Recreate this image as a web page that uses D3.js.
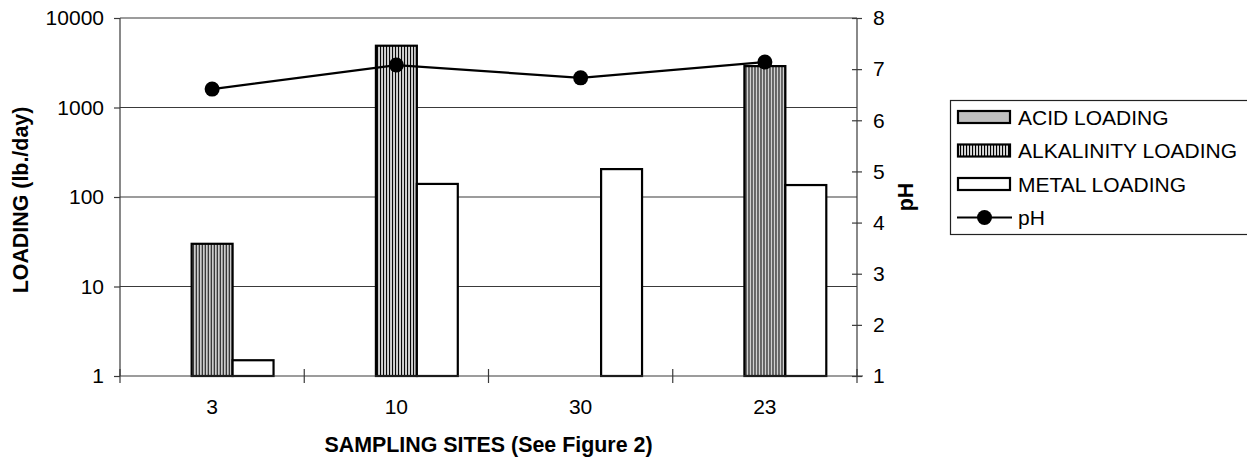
<!DOCTYPE html>
<html>
<head>
<meta charset="utf-8">
<script src="https://cdn.jsdelivr.net/npm/d3@7"></script>
<style>
  html, body { margin: 0; padding: 0; background: #fff; }
  svg { display: block; font-family: "Liberation Sans", Arial, sans-serif; }
</style>
</head>
<body>
<svg id="chart" width="1247" height="458"></svg>
<script>
// Sampling sites along the x axis
const sites = ["3", "10", "30", "23"];

// Loading series (lb./day); 0 means no load measured at the site
const acidLoading = [0, 0, 0, 0];
const alkalinityLoading = [30, 4900, 0, 2900];
const metalLoading = [1.5, 140, 205, 136];

// pH measured at each site
const pHValues = [6.61, 7.08, 6.83, 7.14];

// Axis ticks
const loadingTicks = [1, 10, 100, 1000, 10000];
const pHTicks = [1, 2, 3, 4, 5, 6, 7, 8];

const seriesNames = ["ACID LOADING", "ALKALINITY LOADING", "METAL LOADING"];
const seriesValues = [acidLoading, alkalinityLoading, metalLoading];

const svg = d3.select("#chart");
const plot = { left: 120, right: 857, top: 18, bottom: 376 };
const FS = 21;      // regular label size
const FSB = 21.4;   // bold title size

// Fills
const defs = svg.append("defs");
const pat = defs.append("pattern")
  .attr("id", "vstripes")
  .attr("patternUnits", "userSpaceOnUse")
  .attr("width", 3).attr("height", 10);
pat.append("rect").attr("width", 3).attr("height", 10).attr("fill", "#dcdcdc");
pat.append("rect").attr("x", 0).attr("width", 1.1).attr("height", 10).attr("fill", "#000");

const fills = ["#c0c0c0", "url(#vstripes)", "#ffffff"];

// Scales
const x = d3.scaleBand().domain(sites).range([plot.left, plot.right]).paddingInner(0).paddingOuter(0);
const groupWidth = x.bandwidth() * 3 / 4.5;
const xs = d3.scaleBand().domain(d3.range(seriesNames.length)).range([0, groupWidth]);
const y = d3.scaleLog().domain([1, 10000]).range([plot.bottom, plot.top]);
const yR = d3.scaleLinear().domain([1, 8]).range([plot.bottom, plot.top]);

// Horizontal gridlines at each decade
svg.append("g")
  .selectAll("line")
  .data(loadingTicks.slice(1))
  .join("line")
  .attr("x1", plot.left).attr("x2", plot.right)
  .attr("y1", d => y(d)).attr("y2", d => y(d))
  .attr("stroke", "#3a3a3a").attr("stroke-width", 1.2);

// Bars
const groups = svg.append("g").selectAll("g")
  .data(sites)
  .join("g")
  .attr("transform", d => `translate(${x(d) + (x.bandwidth() - groupWidth) / 2},0)`);

groups.selectAll("rect")
  .data((d, i) => seriesValues.map((vals, s) => ({ s, v: vals[i] })).filter(e => e.v > 0))
  .join("rect")
  .attr("x", e => xs(e.s))
  .attr("width", xs.bandwidth())
  .attr("y", e => y(e.v))
  .attr("height", e => y(1) - y(e.v))
  .attr("fill", e => fills[e.s])
  .attr("stroke", "#000")
  .attr("stroke-width", 2.2);

// Left axis (log)
const leftAxis = d3.axisLeft(y)
  .tickValues(loadingTicks)
  .tickFormat(d3.format("d"))
  .tickSize(6).tickPadding(10);
const gL = svg.append("g").attr("transform", `translate(${plot.left},0)`).call(leftAxis);
gL.select(".domain").attr("stroke", "#3a3a3a").attr("stroke-width", 1.2).attr("d", `M0,${plot.top}V${plot.bottom}`);
gL.selectAll(".tick line").attr("stroke", "#3a3a3a").attr("stroke-width", 1.2);
gL.selectAll("text").attr("font-size", FS).attr("fill", "#000").attr("font-family", "Liberation Sans, Arial, sans-serif");

// Right axis (pH)
const rightAxis = d3.axisRight(yR).tickValues(pHTicks).tickFormat(d3.format("d")).tickSize(5).tickPadding(11);
const gR = svg.append("g").attr("transform", `translate(${plot.right},0)`).call(rightAxis);
gR.select(".domain").attr("stroke", "#3a3a3a").attr("stroke-width", 1.2).attr("d", `M0,${plot.top}V${plot.bottom}`);
gR.selectAll(".tick line").attr("stroke", "#3a3a3a").attr("stroke-width", 1.2).attr("x1", -5).attr("x2", 5);
gR.selectAll("text").attr("font-size", FS).attr("fill", "#000").attr("font-family", "Liberation Sans, Arial, sans-serif");

// Bottom axis: category boundaries with crossing ticks, labels at centres
const gB = svg.append("g");
gB.append("line")
  .attr("x1", plot.left).attr("x2", plot.right + 6)
  .attr("y1", plot.bottom).attr("y2", plot.bottom)
  .attr("stroke", "#3a3a3a").attr("stroke-width", 1.2);
const boundaries = sites.map(s => x(s)).concat([x(sites[sites.length - 1]) + x.bandwidth()]);
gB.selectAll("line.tk")
  .data(boundaries)
  .join("line").attr("class", "tk")
  .attr("x1", d => d).attr("x2", d => d)
  .attr("y1", plot.bottom - 7).attr("y2", plot.bottom + 7)
  .attr("stroke", "#3a3a3a").attr("stroke-width", 1.2);
gB.selectAll("text")
  .data(sites)
  .join("text")
  .attr("x", d => x(d) + x.bandwidth() / 2)
  .attr("y", 414)
  .attr("text-anchor", "middle")
  .attr("font-size", FS)
  .text(d => d);

// pH line with markers
const line = d3.line()
  .x((d, i) => x(sites[i]) + x.bandwidth() / 2)
  .y(d => yR(d));
svg.append("path")
  .datum(pHValues)
  .attr("d", line)
  .attr("fill", "none")
  .attr("stroke", "#000")
  .attr("stroke-width", 2.2);
svg.append("g").selectAll("circle")
  .data(pHValues)
  .join("circle")
  .attr("cx", (d, i) => x(sites[i]) + x.bandwidth() / 2)
  .attr("cy", d => yR(d))
  .attr("r", 7.5)
  .attr("fill", "#000");

// Axis titles
svg.append("text")
  .attr("x", (plot.left + plot.right) / 2)
  .attr("y", 452)
  .attr("text-anchor", "middle")
  .attr("font-size", FSB).attr("font-weight", "bold")
  .text("SAMPLING SITES (See Figure 2)");

svg.append("text")
  .attr("transform", `translate(28,${(plot.top + plot.bottom) / 2 + 3}) rotate(-90)`)
  .attr("text-anchor", "middle")
  .attr("font-size", FSB).attr("font-weight", "bold")
  .text("LOADING (lb./day)");

svg.append("text")
  .attr("transform", `translate(913,${(plot.top + plot.bottom) / 2}) rotate(-90)`)
  .attr("text-anchor", "middle")
  .attr("font-size", FSB).attr("font-weight", "bold")
  .text("pH");

// Legend
const legend = svg.append("g");
legend.append("rect")
  .attr("x", 950.5).attr("y", 100.5)
  .attr("width", 310).attr("height", 134)
  .attr("fill", "#fff").attr("stroke", "#222").attr("stroke-width", 1.2);

const rowY = [117, 150.5, 184, 217.5];
seriesNames.forEach((name, i) => {
  legend.append("rect")
    .attr("x", 958).attr("y", rowY[i] - 6)
    .attr("width", 52).attr("height", 12)
    .attr("fill", fills[i])
    .attr("stroke", "#000").attr("stroke-width", 2.2);
  legend.append("text")
    .attr("x", 1018).attr("y", rowY[i] + 7.5)
    .attr("font-size", FS)
    .text(name);
});
legend.append("line")
  .attr("x1", 957).attr("x2", 1012)
  .attr("y1", rowY[3]).attr("y2", rowY[3])
  .attr("stroke", "#000").attr("stroke-width", 2.2);
legend.append("circle")
  .attr("cx", 984.5).attr("cy", rowY[3]).attr("r", 7.5).attr("fill", "#000");
legend.append("text")
  .attr("x", 1018).attr("y", rowY[3] + 7.5)
  .attr("font-size", FS)
  .text("pH");
</script>
</body>
</html>
